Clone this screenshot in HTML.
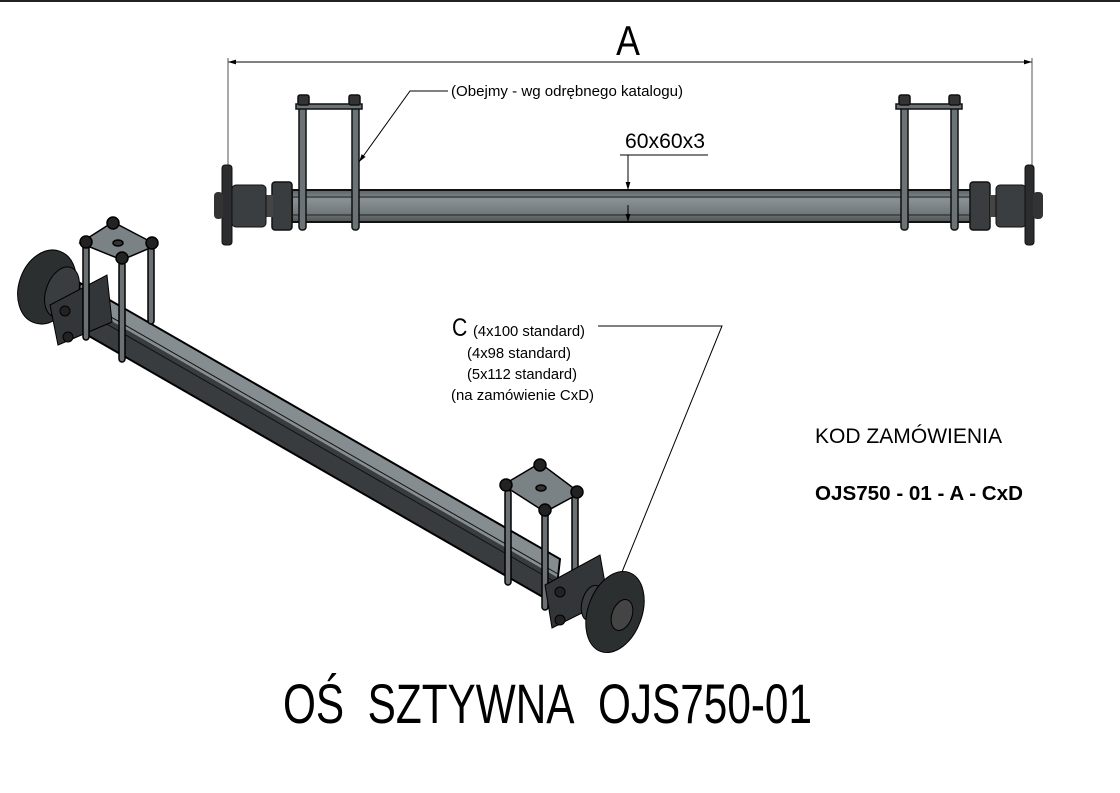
<!DOCTYPE html>
<html><head><meta charset="utf-8"><style>
html,body{margin:0;padding:0;background:#fff;}
svg{display:block;font-family:"Liberation Sans",sans-serif;}
</style></head><body>
<svg width="1120" height="793" viewBox="0 0 1120 793" xmlns="http://www.w3.org/2000/svg">
<defs>
<linearGradient id="bm" x1="0" y1="0" x2="0" y2="1">
<stop offset="0" stop-color="#5b6164"/><stop offset="0.3" stop-color="#8a9194"/><stop offset="0.7" stop-color="#737a7d"/><stop offset="1" stop-color="#4f5456"/></linearGradient>
<marker id="ar" viewBox="0 0 10 10" refX="10" refY="5" markerWidth="8" markerHeight="8" orient="auto-start-reverse"><path d="M0,2L10,5L0,8z" fill="#000"/></marker>
</defs>
<line x1="0" y1="1" x2="1120" y2="1" stroke="#222" stroke-width="2"/>

<!-- dimension A -->
<text x="628" y="55" font-size="42" text-anchor="middle" transform="translate(628 0) scale(0.85 1) translate(-628 0)">A</text>
<line x1="228" y1="62" x2="1032" y2="62" stroke="#000" stroke-width="1" marker-start="url(#ar)" marker-end="url(#ar)"/>
<line x1="228" y1="58" x2="228" y2="165" stroke="#555" stroke-width="1"/>
<line x1="1032" y1="58" x2="1032" y2="165" stroke="#555" stroke-width="1"/>

<!-- top view beam -->
<rect x="292" y="190" width="680" height="32" fill="url(#bm)" stroke="#111" stroke-width="2"/>
<line x1="292" y1="197" x2="972" y2="197" stroke="#222" stroke-width="1"/>
<line x1="292" y1="215" x2="972" y2="215" stroke="#222" stroke-width="1"/>
<rect x="272" y="182" width="20" height="48" rx="3" fill="#3a3d3f" stroke="#111" stroke-width="1.5"/>
<rect x="265" y="195" width="8" height="22" fill="#444"/>
<rect x="232" y="185" width="34" height="42" rx="4" fill="#3b3e40" stroke="#111"/>
<rect x="222" y="165" width="10" height="80" rx="3" fill="#2a2c2d" stroke="#111"/>
<rect x="214" y="192" width="9" height="27" rx="4" fill="#333"/>
<rect x="970" y="182" width="20" height="48" rx="3" fill="#3a3d3f" stroke="#111" stroke-width="1.5"/>
<rect x="990" y="195" width="8" height="22" fill="#444"/>
<rect x="996" y="185" width="30" height="42" rx="4" fill="#3b3e40" stroke="#111"/>
<rect x="1025" y="165" width="9" height="80" rx="3" fill="#2a2c2d" stroke="#111"/>
<rect x="1033" y="192" width="10" height="27" rx="4" fill="#333"/>
<g fill="#6c7376" stroke="#111" stroke-width="1.5">
<rect x="299" y="105" width="7" height="125" rx="3"/><rect x="352" y="105" width="7" height="125" rx="3"/>
<rect x="296" y="104" width="66" height="5"/>
<rect x="298" y="95" width="11" height="10" rx="2" fill="#333"/><rect x="349" y="95" width="11" height="10" rx="2" fill="#333"/>
<rect x="901" y="105" width="7" height="125" rx="3"/><rect x="951" y="105" width="7" height="125" rx="3"/>
<rect x="896" y="104" width="66" height="5"/>
<rect x="899" y="95" width="11" height="10" rx="2" fill="#333"/><rect x="949" y="95" width="11" height="10" rx="2" fill="#333"/>
</g>
<polyline points="448,91 410,91 359,162" fill="none" stroke="#000" stroke-width="1" marker-end="url(#ar)"/>
<text x="451" y="96" font-size="15" textLength="232" lengthAdjust="spacingAndGlyphs">(Obejmy - wg odrębnego katalogu)</text>
<text x="625" y="148" font-size="21" textLength="80" lengthAdjust="spacingAndGlyphs">60x60x3</text>
<line x1="620" y1="155" x2="708" y2="155" stroke="#000"/>
<line x1="628" y1="155" x2="628" y2="190" stroke="#000" marker-end="url(#ar)"/>
<line x1="628" y1="205" x2="628" y2="222" stroke="#000" marker-end="url(#ar)"/>

<!-- isometric beam -->
<polygon points="80,283 560,559 557,577 77,301" fill="#868d90"/>
<polygon points="77,301 557,577 555,604 75,328" fill="#383c3e"/>
<polygon points="80,283 560,559 555,604 75,328" fill="none" stroke="#000" stroke-width="2"/>
<line x1="78" y1="298" x2="558" y2="574" stroke="#111" stroke-width="1"/>
<line x1="77" y1="307" x2="557" y2="583" stroke="#111" stroke-width="1"/>
<!-- left hub iso -->
<ellipse cx="47" cy="287" rx="28" ry="38" transform="rotate(20 47 287)" fill="#2c2f30" stroke="#000"/>
<ellipse cx="62" cy="292" rx="16" ry="26" transform="rotate(20 62 292)" fill="#3a3d3f" stroke="#000"/>
<polygon points="50,305 107,275 112,322 58,345" fill="#333638" stroke="#000"/>
<circle cx="65" cy="311" r="5" fill="#222" stroke="#000"/><circle cx="68" cy="337" r="5" fill="#222" stroke="#000"/>
<!-- left clamp -->
<g stroke="#000" stroke-width="1.5" fill="#6a7073">
<rect x="83" y="245" width="6" height="95" rx="3"/><rect x="119" y="262" width="6" height="100" rx="3"/><rect x="148" y="247" width="6" height="77" rx="3"/>
<polygon points="80,243 113,222 157,245 122,260" fill="#7b8285"/>
<circle cx="86" cy="242" r="6" fill="#222"/><circle cx="113" cy="223" r="6" fill="#222"/><circle cx="152" cy="243" r="6" fill="#222"/><circle cx="122" cy="258" r="6" fill="#222"/>
<ellipse cx="118" cy="243" rx="5" ry="3" fill="#333"/>
</g>
<!-- right clamp -->
<g stroke="#000" stroke-width="1.5" fill="#6a7073">
<rect x="505" y="490" width="6" height="95" rx="3"/><rect x="542" y="510" width="6" height="100" rx="3"/><rect x="572" y="495" width="6" height="80" rx="3"/>
<polygon points="503,485 540,463 580,493 545,512" fill="#7b8285"/>
<circle cx="506" cy="485" r="6" fill="#222"/><circle cx="540" cy="465" r="6" fill="#222"/><circle cx="577" cy="492" r="6" fill="#222"/><circle cx="545" cy="510" r="6" fill="#222"/>
<ellipse cx="541" cy="488" rx="5" ry="3" fill="#333"/>
</g>
<!-- right hub iso -->
<polygon points="545,585 600,555 608,600 552,628" fill="#333638" stroke="#000"/>
<circle cx="560" cy="592" r="5" fill="#222" stroke="#000"/><circle cx="560" cy="620" r="5" fill="#222" stroke="#000"/>
<ellipse cx="592" cy="603" rx="10" ry="18" transform="rotate(15 592 603)" fill="#3a3d3f" stroke="#000"/>
<ellipse cx="615" cy="612" rx="27" ry="42" transform="rotate(20 615 612)" fill="#2c2f30" stroke="#000"/>
<ellipse cx="622" cy="615" rx="10" ry="16" transform="rotate(20 622 615)" fill="#444" stroke="#000"/>
<!-- leader C -->
<polyline points="598,326 722,326 622,572" fill="none" stroke="#000" stroke-width="1"/>
<text x="452" y="336" font-size="25" transform="translate(452 0) scale(0.85 1) translate(-452 0)">C</text>
<text x="473" y="336" font-size="15" textLength="112" lengthAdjust="spacingAndGlyphs">(4x100 standard)</text>
<text x="467" y="358" font-size="15" textLength="104" lengthAdjust="spacingAndGlyphs">(4x98 standard)</text>
<text x="467" y="379" font-size="15" textLength="110" lengthAdjust="spacingAndGlyphs">(5x112 standard)</text>
<text x="451" y="400" font-size="15" textLength="143" lengthAdjust="spacingAndGlyphs">(na zamówienie CxD)</text>

<text x="815" y="443" font-size="21" textLength="187" lengthAdjust="spacingAndGlyphs">KOD ZAMÓWIENIA</text>
<text x="815" y="500" font-size="20" font-weight="bold" textLength="208" lengthAdjust="spacingAndGlyphs">OJS750 - 01 - A - CxD</text>

<text x="283" y="723" font-size="56" xml:space="preserve" style="white-space:pre" textLength="529" lengthAdjust="spacingAndGlyphs">OŚ&#160;&#160;SZTYWNA&#160;&#160;OJS750-01</text>
</svg>
</body></html>
